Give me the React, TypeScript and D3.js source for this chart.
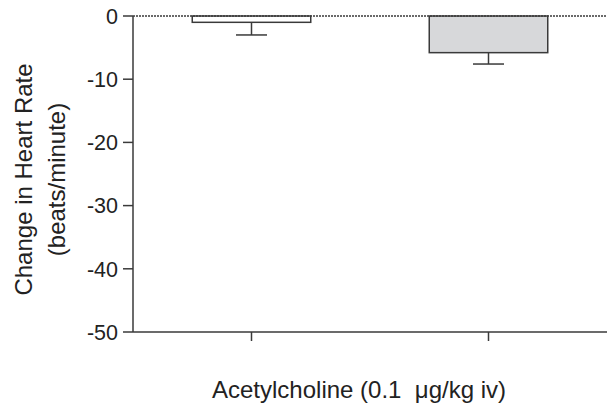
import React from "react";
import * as d3 from "d3";

const categories = ["Control", "Treatment"];
const means = [-1.0, -5.8];
const errors = [2.0, 1.8];
const fills = ["#ffffff", "#d7d8da"];
const yTicks = [0, -10, -20, -30, -40, -50];

const W = 613;
const H = 411;
const left = 133;
const right = 607;
const top = 16;
const bottom = 332;

export default function App() {
  const y = d3.scaleLinear().domain([0, -50]).range([top, bottom]);
  const x = d3.scaleBand<string>().domain(categories).range([left, right]).paddingInner(0.5).paddingOuter(0.25);
  const bw = x.bandwidth();
  const capW = 31;
  const axisColor = "#3a3a3a";
  const font = "Liberation Sans, Arial, sans-serif";
  return (
    <svg width={W} height={H} style={{ position: "absolute", left: 0, top: 0 }}>
      <rect width={W} height={H} fill="#fff" />
      {categories.map((c, i) => {
        const cx = (x(c) as number) + bw / 2;
        const yb = y(means[i]);
        const ye = y(means[i] - errors[i]);
        return (
          <g key={c}>
            <line x1={cx} x2={cx} y1={yb} y2={ye} stroke={axisColor} strokeWidth={1.5} />
            <line x1={cx - capW / 2} x2={cx + capW / 2} y1={ye} y2={ye} stroke={axisColor} strokeWidth={1.5} />
            <rect x={x(c)} y={y(0)} width={bw} height={yb - y(0)} fill={fills[i]} stroke={axisColor} strokeWidth={1.5} />
          </g>
        );
      })}
      <line x1={left} x2={right} y1={y(0)} y2={y(0)} stroke={axisColor} strokeWidth={1.3} strokeDasharray="2,1" />
      <line x1={left} x2={left} y1={y(0)} y2={y(-50)} stroke={axisColor} strokeWidth={1.5} />
      <line x1={left} x2={right} y1={y(-50)} y2={y(-50)} stroke={axisColor} strokeWidth={1.5} />
      {yTicks.map((t) => (
        <g key={t}>
          <line x1={left - 10} x2={left} y1={y(t)} y2={y(t)} stroke={axisColor} strokeWidth={1.5} />
          <text x={left - 15} y={y(t)} dy="0.36em" textAnchor="end" fontFamily={font} fontSize={21.5} fill="#222">
            {t}
          </text>
        </g>
      ))}
      {categories.map((c) => {
        const cx = (x(c) as number) + bw / 2;
        return <line key={c} x1={cx} x2={cx} y1={bottom} y2={bottom + 9} stroke={axisColor} strokeWidth={1.5} />;
      })}
      <text x={359} y={398} textAnchor="middle" fontFamily={font} fontSize={24} fill="#222">
        Acetylcholine (0.1 {"\u00A0"}μg/kg iv)
      </text>
      <g transform={`translate(0, 179.5) rotate(-90)`}>
        <text x={0} y={32} textAnchor="middle" fontFamily={font} fontSize={24} fill="#222">
          Change in Heart Rate
        </text>
        <text x={0} y={65} textAnchor="middle" fontFamily={font} fontSize={24} fill="#222">
          (beats/minute)
        </text>
      </g>
    </svg>
  );
}
